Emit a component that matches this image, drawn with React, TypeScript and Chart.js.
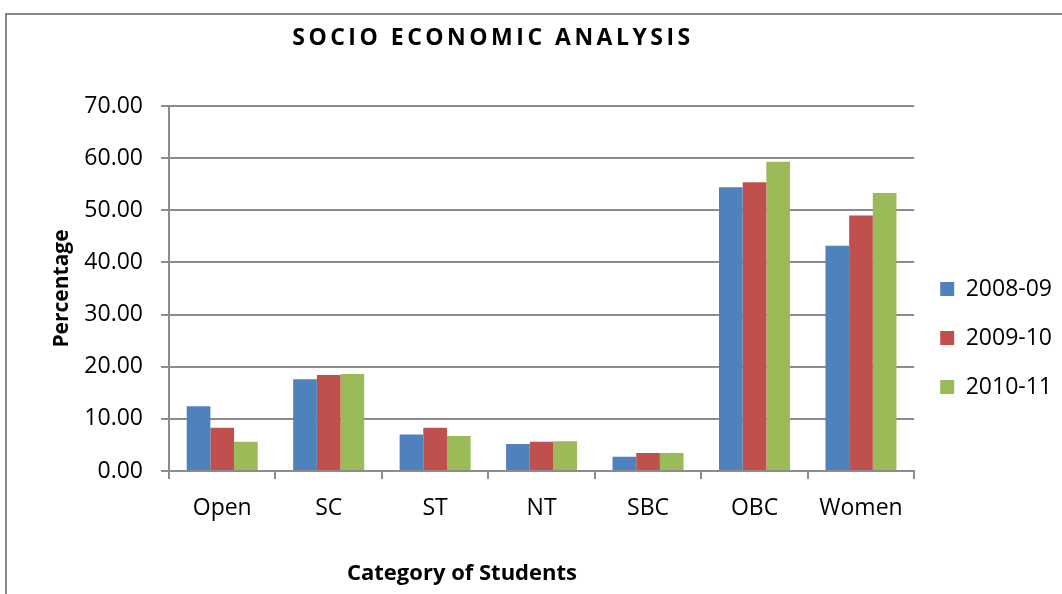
import React, { useEffect, useRef } from "react";
import { Chart, registerables } from "chart.js";

Chart.register(...registerables);

const categories = ["Open", "SC", "ST", "NT", "SBC", "OBC", "Women"];
const seriesLabels = ["2008-09", "2009-10", "2010-11"];
const values0809 = [12.4, 17.6, 7.0, 5.2, 2.75, 54.4, 43.2];
const values0910 = [8.3, 18.4, 8.3, 5.6, 3.45, 55.4, 49.0];
const values1011 = [5.6, 18.6, 6.7, 5.7, 3.45, 59.3, 53.3];
const seriesColors = ["#4F81BD", "#C0504D", "#9BBB59"];
const yMin = 0;
const yMax = 70;
const yStep = 10;

const chartTitle = "SOCIO ECONOMIC ANALYSIS";
const xTitle = "Category of Students";
const yTitle = "Percentage";

const FONT = "'Open Sans', 'DejaVu Sans', sans-serif";

const extraTexts = {
  id: "extraTexts",
  afterDraw(chart: any) {
    const ctx = chart.ctx;
    ctx.save();
    ctx.fillStyle = "#000";
    ctx.textAlign = "center";
    ctx.textBaseline = "middle";
    ctx.font = `bold 23px ${FONT}`;
    (ctx as any).letterSpacing = "3.5px";
    ctx.fillText(chartTitle, 486, 23);
    (ctx as any).letterSpacing = "0px";
    ctx.font = `bold 22px ${FONT}`;
    ctx.fillText(xTitle, 455, 559);
    ctx.restore();
  },
};

export default function App() {
  const ref = useRef<HTMLCanvasElement>(null);
  useEffect(() => {
    if (!ref.current) return;
    const datasets = [values0809, values0910, values1011].map((d, i) => ({
      label: seriesLabels[i],
      data: d,
      backgroundColor: seriesColors[i],
      borderWidth: 0,
      categoryPercentage: 0.667,
      barPercentage: 1.0,
    }));
    const chart = new Chart(ref.current, {
      type: "bar",
      data: { labels: categories, datasets },
      plugins: [extraTexts],
      options: {
        animation: false,
        responsive: false,
        layout: { padding: { left: 30, top: 91, right: 0, bottom: 24 } },
        plugins: {
          title: { display: false },
          tooltip: { enabled: false },
          legend: {
            position: "right",
            labels: {
              boxWidth: 14,
              boxHeight: 14,
              padding: 26,
              color: "#000",
              font: { family: FONT, size: 23 },
            },
          },
        },
        scales: {
          x: {
            afterFit: (s: any) => {
              s.height = 99;
            },
            grid: {
              display: true,
              drawOnChartArea: false,
              drawTicks: true,
              tickLength: 8,
              offset: true,
              color: "#8c8c8c",
              lineWidth: 2,
            },
            border: { display: true, color: "#8c8c8c", width: 2 },
            ticks: {
              color: "#000",
              padding: 16,
              font: { family: FONT, size: 23 },
            },
          },
          y: {
            min: yMin,
            max: yMax,
            afterFit: (s: any) => {
              s.width = 132;
            },
            ticks: {
              stepSize: yStep,
              color: "#000",
              padding: 18,
              font: { family: FONT, size: 23 },
              callback: (v: any) => Number(v).toFixed(2),
            },
            grid: {
              color: "#8c8c8c",
              lineWidth: 2,
              tickLength: 8,
            },
            border: { display: true, color: "#8c8c8c", width: 2 },
            title: {
              display: true,
              text: yTitle,
              color: "#000",
              padding: { top: 12, bottom: 0 },
              font: { family: FONT, size: 21, weight: "bold" },
            },
          },
        },
      },
    });
    return () => chart.destroy();
  }, []);

  return (
    <div
      style={{
        position: "fixed",
        inset: 0,
        overflow: "hidden",
        background: "#fff",
      }}
    >
      <div
        style={{
          position: "absolute",
          left: 5,
          top: 13,
          width: 1100,
          height: 620,
          border: "2px solid #878787",
        }}
      >
        <canvas
          ref={ref}
          width={1055}
          height={579}
          style={{ position: "absolute", left: 0, top: 0 }}
        />
      </div>
    </div>
  );
}
